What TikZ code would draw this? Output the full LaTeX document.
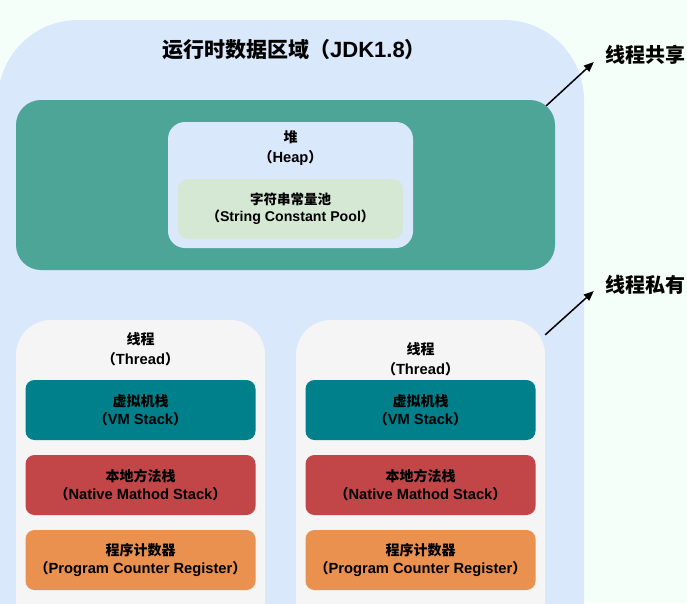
\documentclass[tikz,border=0pt]{standalone}
\usepackage{fontspec}
\setmainfont{Liberation Sans}[Scale=1.05]
\newfontfamily\cjk{Noto Sans CJK SC}
\newcommand{\zh}[1]{{\cjk #1}}
\usetikzlibrary{arrows.meta}

\definecolor{bgmint}{RGB}{245,255,249}
\definecolor{areablue}{RGB}{218,232,252}
\definecolor{heapteal}{RGB}{76,165,150}
\definecolor{poolgreen}{RGB}{213,232,212}
\definecolor{threadgray}{RGB}{245,245,245}
\definecolor{vmteal}{RGB}{0,128,138}
\definecolor{nativered}{RGB}{194,69,72}
\definecolor{pcorange}{RGB}{234,145,80}

\tikzset{
  boxtext/.style={font=\bfseries\fontsize{14}{18}\selectfont},
  bigtext/.style={font=\bfseries\fontsize{20}{24}\selectfont},
  stackbox/.style={fill=#1, rounded corners=9pt, minimum width=230pt,
    minimum height=60pt, boxtext},
  arr/.style={-{Triangle[length=10pt,width=8pt]}, line width=1.5pt}
}

\begin{document}
\begin{tikzpicture}[x=1pt, y=-1pt, every node/.style={align=center, inner sep=0pt}]
    \useasboundingbox (0,0) rectangle (687,603);
    % 背景
    \fill[bgmint] (0,0) rectangle (687,603);
    \clip (0,0) rectangle (687,603);

    % 运行时数据区域
    \node[fill=areablue, rounded corners=80pt, minimum width=586pt, minimum height=680pt] (area) at (291,360) {};
    \node[font=\bfseries\fontsize{21}{24}\selectfont] (title) at (294,50) {\zh{运行时数据区域（}JDK1.8\zh{）}};

    % 堆
    \node[fill=heapteal, rounded corners=25pt, minimum width=539pt, minimum height=170pt] (heapbg) at (285.5,185) {};
    \node[fill=areablue, rounded corners=17pt, minimum width=245pt, minimum height=126pt] (heap) at (290.5,185) {};
    \node[font=\bfseries\fontsize{14}{20}\selectfont] (heapname) at (290.5,148) {\zh{堆}\\\zh{（}Heap\zh{）}};
    \node[fill=poolgreen, rounded corners=10pt, minimum width=225pt, minimum height=60pt,
      font=\bfseries\fontsize{13.5}{17}\selectfont] (pool) at (290.5,209)
      {\zh{字符串常量池}\\\zh{（}String Constant Pool\zh{）}};

    % 线程
    \foreach \cx/\ty/\i in {140.5/349/1, 420.5/359/2} {
        \node[fill=threadgray, rounded corners=35pt, minimum width=249pt, minimum height=360pt] (thread\i) at (\cx,500) {};
        \node[font=\bfseries\fontsize{14}{20}\selectfont] (threadname\i) at (\cx,\ty) {\zh{线程}\\\zh{（}Thread\zh{）}};
        \node[stackbox=vmteal] (vm\i) at (\cx,410) {\zh{虚拟机栈}\\\zh{（}VM Stack\zh{）}};
        \node[stackbox=nativered] (native\i) at (\cx,485) {\zh{本地方法栈}\\\zh{（}Native Mathod Stack\zh{）}};
        \node[stackbox=pcorange] (pc\i) at (\cx,560) {\zh{程序计数器}\\\zh{（}Program Counter Register\zh{）}};
    }

    % 共享 / 私有
    \node[bigtext] (shared) at (645,55) {\zh{线程共享}};
    \node[bigtext] (private) at (645,285) {\zh{线程私有}};
    \draw[arr] ([xshift=-9pt,yshift=-6pt]heapbg.north east) -- ([xshift=-11pt,yshift=-7pt]shared.west);
    \draw[arr] ([yshift=-15pt]thread2.north east) -- ([xshift=-11pt,yshift=-6pt]private.west);
\end{tikzpicture}
\end{document}
